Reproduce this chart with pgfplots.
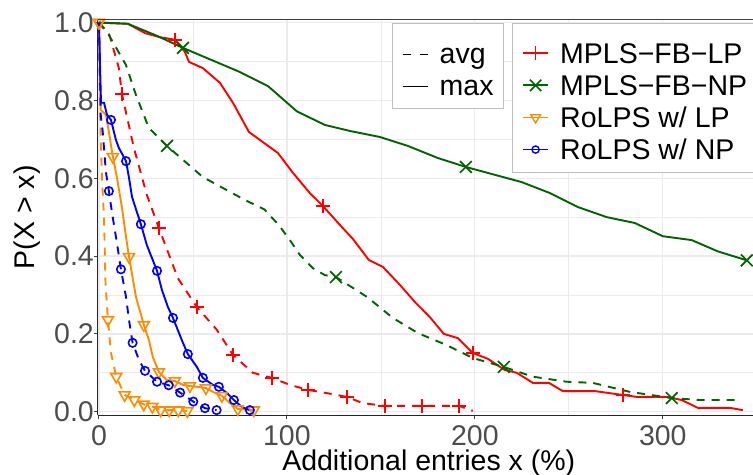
\documentclass[border=0pt]{standalone}
\usepackage{fontspec}
\setmainfont{Liberation Sans}
\usepackage{pgfplots}
\pgfplotsset{compat=1.18}
\definecolor{cred}{HTML}{FF0000}
\definecolor{cgreen}{HTML}{006400}
\definecolor{corange}{HTML}{FF8C00}
\definecolor{cblue}{HTML}{0000FF}
\definecolor{tickgray}{HTML}{4D4D4D}
\definecolor{gridgray}{HTML}{EBEBEB}
\newcommand{\fs}{\fontsize{28.5bp}{34bp}\selectfont}
\pgfplotsset{
  base/.style={scale only axis, width=655bp, height=395.5bp,
    xmin=-0.5, xmax=348, ymin=-0.0085, ymax=1.008},
  leg/.style={legend cell align=left,
    legend style={font=\fs, draw=black!25, line width=0.8bp, fill=white,
      inner xsep=9.5bp, inner ysep=5.6bp, row sep=-9.4bp, anchor=north west,
      cells={anchor=base west},
      nodes={inner sep=0pt, text height=34.5bp, text depth=7bp},
      /tikz/every odd column/.append style={column sep=11bp}}},
  ln/.style={line width=1.9bp, no marks},
  dsh/.style={dash pattern=on 8bp off 7bp},
  mplus/.style={only marks, mark=+, mark size=6.8bp, mark options={line width=1.7bp, solid}},
  mx/.style={only marks, mark=x, mark size=8.3bp, mark options={line width=1.7bp, solid}},
  mtri/.style={only marks, mark=triangle, mark size=6.3bp, mark options={rotate=180, line width=1.6bp, solid}},
  mcirc/.style={only marks, mark=o, mark size=4.2bp, mark options={line width=1.6bp, solid}},
}
\begin{document}
\begin{tikzpicture}
\begin{axis}[base,
  axis x line*=bottom, axis y line*=left,
  axis line style={black!85, line width=1bp},
  xtick={0,100,200,300}, ytick={0,0.2,0.4,0.6,0.8,1.0},
  minor xtick={50,150,250}, minor ytick={0.1,0.3,0.5,0.7,0.9},
  grid=both,
  major grid style={gridgray, line width=1.3bp},
  minor grid style={gridgray, line width=0.7bp},
  tick align=outside, major tick length=4bp, minor tick length=0pt,
  major tick style={black!75, line width=1bp},
  tick label style={font=\fs, text=tickgray},
  /pgf/number format/assume math mode=true,
  yticklabel={\pgfmathprintnumber[fixed,fixed zerofill,precision=1]{\tick}},
  xticklabel style={inner sep=0pt, anchor=north, yshift=-6bp},
  yticklabel style={inner sep=0pt, anchor=east, xshift=0bp},
  xlabel={Additional entries x (\%)}, ylabel={P(X > x)},
  every axis x label/.style={at={(rel axis cs:0.505,0)}, anchor=base, yshift=-55bp, font=\fs},
  every axis y label/.style={at={(rel axis cs:0,0.5)}, xshift=-71bp, rotate=90, anchor=center, font=\fs},
  after end axis/.code={\draw[black!75, line width=1bp] (rel axis cs:0,1) -- (rel axis cs:1,1);},
]
% MPLS-FB-LP max
\addplot[cred, ln] coordinates {(0,1.0) (15.4,0.997) (24.5,0.973) (32,0.963) (40.4,0.956) (45.7,0.925) (47.9,0.899) (55.3,0.883) (64.4,0.845) (71.3,0.794) (79.8,0.719) (87.2,0.693) (95.2,0.665) (103.2,0.614) (112.2,0.562) (119.1,0.529) (128.2,0.480) (135.1,0.444) (143.6,0.390) (151.1,0.372) (160.1,0.326) (168.1,0.282) (176.1,0.243) (183.5,0.200) (191,0.189) (198.9,0.151) (206.9,0.136) (216,0.107) (222.3,0.100) (230.9,0.074) (239.4,0.074) (246.8,0.053) (263.8,0.053) (278.7,0.043) (286.2,0.038) (302.1,0.038) (310.1,0.030) (318.6,0.010) (335.6,0.010) (342.6,0.004)};
\addplot[cred, mplus] coordinates {(40.4,0.956) (119.1,0.529) (198.9,0.151) (278.7,0.043)};
% MPLS-FB-LP avg
\addplot[cred, ln, dsh] coordinates {(0,1.0) (5.3,0.973) (10.6,0.883) (12.2,0.817) (18.6,0.678) (25.5,0.557) (31.9,0.472) (42,0.343) (52.1,0.269) (62.8,0.210) (71.3,0.146) (81.9,0.100) (92,0.087) (101.6,0.069) (111.2,0.056) (121,0.048) (131.9,0.038) (140.4,0.022) (152.1,0.015) (171.8,0.015) (191.5,0.015) (198.9,0.002)};
\addplot[cred, mplus] coordinates {(12.2,0.817) (31.9,0.472) (52.1,0.269) (71.3,0.146) (92,0.087) (111.2,0.056) (131.9,0.038) (152.1,0.015) (171.8,0.015) (191.5,0.015)};
% MPLS-FB-NP max
\addplot[cgreen, ln] coordinates {(0,1.0) (15.4,0.997) (30.9,0.966) (44.7,0.935) (75,0.873) (89.9,0.837) (105.3,0.772) (120.2,0.737) (134,0.721) (149.5,0.706) (164.4,0.683) (180.3,0.652) (195.2,0.629) (225,0.590) (239.9,0.562) (254.8,0.526) (270.2,0.500) (285.1,0.485) (300,0.451) (315.4,0.441) (329.3,0.412) (344.7,0.389)};
\addplot[cgreen, mx] coordinates {(44.7,0.935) (195.2,0.629) (344.7,0.389)};
% MPLS-FB-NP avg
\addplot[cgreen, ln, dsh] coordinates {(0,1.0) (5.3,0.968) (14.4,0.891) (19.7,0.814) (26.6,0.729) (36.2,0.683) (55.3,0.603) (77.7,0.544) (88,0.520) (96,0.478) (102,0.438) (106.9,0.403) (113.8,0.369) (120.2,0.351) (126.1,0.346) (142.6,0.295) (156.4,0.241) (169.7,0.202) (185.1,0.171) (198.9,0.138) (215.4,0.115) (230.9,0.090) (248.9,0.077) (262.8,0.074) (282.4,0.051) (304.8,0.035) (319.7,0.030) (341,0.030)};
\addplot[cgreen, mx] coordinates {(36.2,0.683) (126.1,0.346) (215.4,0.115) (304.8,0.035)};
% RoLPS w/ LP max
\addplot[corange, ln] coordinates {(0,1.0) (0.9,0.776) (3.7,0.763) (5.3,0.719) (7.4,0.655) (9.6,0.601) (12.2,0.526) (14.4,0.449) (16,0.398) (19.7,0.295) (23.9,0.223) (26.6,0.184) (28.7,0.140) (31.9,0.102) (36.2,0.081) (40.4,0.079) (44.7,0.069) (48.4,0.066) (52.1,0.064) (56.9,0.061) (60.6,0.051) (65.4,0.041) (69.7,0.022) (73.9,0.007) (82.4,0.004)};
\addplot[corange, mtri] coordinates {(0,1.0) (7.4,0.655) (16,0.398) (23.9,0.223) (31.9,0.102) (40.4,0.079) (48.4,0.066) (56.9,0.061) (65.4,0.041) (73.9,0.007) (82.4,0.004)};
% RoLPS w/ LP avg
\addplot[corange, ln, dsh] coordinates {(0,1.0) (0.6,0.77) (1.6,0.60) (2.7,0.50) (3.5,0.33) (4.8,0.236) (6.4,0.151) (9.2,0.090) (13.7,0.043) (18.8,0.030) (23.8,0.019) (28.4,0.013) (32.8,0.004) (37.4,0.004) (42.2,0.004) (47,0.002)};
\addplot[corange, mtri] coordinates {(0,1.0) (4.8,0.236) (9.2,0.090) (13.7,0.043) (18.8,0.030) (23.8,0.019) (28.4,0.013) (32.8,0.004) (37.4,0.004) (42.2,0.004) (47,0.002)};
% RoLPS w/ NP max
\addplot[cblue, ln] coordinates {(0,1.0) (1.1,0.794) (2.7,0.794) (4.3,0.763) (6.4,0.750) (9,0.699) (10.6,0.678) (14.4,0.644) (16,0.601) (17.6,0.552) (20.2,0.513) (22.3,0.482) (25.5,0.428) (30.9,0.362) (33.5,0.313) (36.7,0.269) (39.4,0.241) (44.7,0.177) (47.3,0.148) (52.1,0.115) (55.3,0.087) (60.6,0.069) (63.8,0.064) (68.1,0.048) (71.8,0.030) (76.1,0.012) (80.3,0.004)};
\addplot[cblue, mcirc] coordinates {(6.4,0.750) (14.4,0.644) (22.3,0.482) (30.9,0.362) (39.4,0.241) (47.3,0.148) (55.3,0.087) (63.8,0.064) (71.8,0.030) (80.3,0.004)};
% RoLPS w/ NP avg
\addplot[cblue, ln, dsh] coordinates {(0,1.0) (1,0.76) (2,0.72) (3.7,0.616) (5.3,0.567) (6.9,0.513) (9.6,0.433) (11.7,0.366) (14.4,0.295) (16,0.236) (17.9,0.177) (21.3,0.133) (24.5,0.105) (30.9,0.077) (37.1,0.068) (43.2,0.049) (50.2,0.026) (56.4,0.009) (62.6,0.004)};
\addplot[cblue, mcirc] coordinates {(5.3,0.567) (11.7,0.366) (17.9,0.177) (24.5,0.105) (30.9,0.077) (37.1,0.068) (43.2,0.049) (50.2,0.026) (56.4,0.009) (62.6,0.004)};
\end{axis}
% legend: line types
\begin{axis}[base, hide axis, leg, legend style={at={(0.4489,0.9912)}},
  legend image code/.code={\draw[#1] (0bp,9bp) -- (25.5bp,9bp);}]
\addlegendimage{black, line width=1.3bp, dash pattern=on 8bp off 9bp}
\addlegendentry{avg}
\addlegendimage{black, line width=1.3bp}
\addlegendentry{max}
\end{axis}
% legend: series
\begin{axis}[base, hide axis, leg, legend style={at={(0.6321,0.9912)}},
  legend image code/.code={\draw[mark repeat=2,mark phase=2,#1] plot coordinates {(0bp,10.2bp) (12.75bp,10.2bp) (25.5bp,10.2bp)};}]
\addlegendimage{cred, line width=1.8bp, mark=+, mark size=6.8bp, mark options={line width=1.7bp}}
\addlegendentry{MPLS−FB−LP}
\addlegendimage{cgreen, line width=1.8bp, mark=x, mark size=8bp, mark options={line width=1.6bp}}
\addlegendentry{MPLS−FB−NP}
\addlegendimage{corange, line width=1.8bp, mark=triangle, mark size=5.5bp, mark options={rotate=180, line width=1.4bp}}
\addlegendentry{RoLPS w/ LP}
\addlegendimage{cblue, line width=1.8bp, mark=o, mark size=3.6bp, mark options={line width=1.4bp}}
\addlegendentry{RoLPS w/ NP}
\end{axis}
\pgfresetboundingbox
\path (-98bp,-60bp) rectangle (655bp,415bp);
\end{tikzpicture}
\end{document}
